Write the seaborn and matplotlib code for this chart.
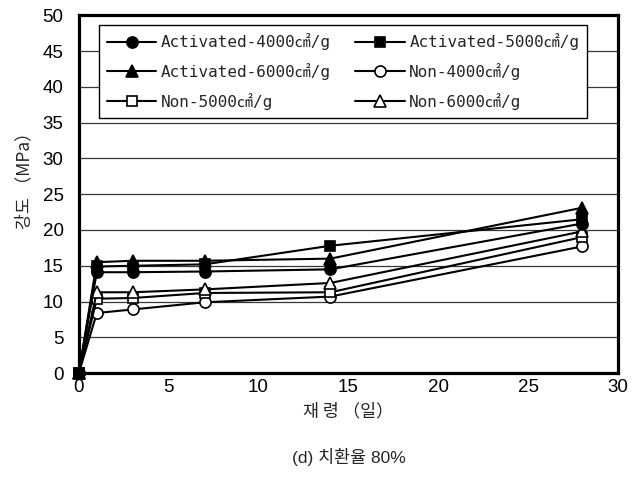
import matplotlib
matplotlib.use("Agg")
import matplotlib.pyplot as plt
import seaborn as sns
import pandas as pd

days = [0, 1, 3, 7, 14, 28]
act4000 = [0, 14.1, 14.1, 14.2, 14.5, 20.9]
act5000 = [0, 14.9, 15.0, 15.2, 17.8, 21.5]
act6000 = [0, 15.5, 15.7, 15.7, 16.0, 23.1]
non4000 = [0, 8.4, 8.9, 9.9, 10.7, 17.7]
non5000 = [0, 10.4, 10.5, 11.2, 11.3, 19.0]
non6000 = [0, 11.3, 11.3, 11.7, 12.6, 19.8]
labels = ["Activated-4000㎠/g", "Activated-5000㎠/g", "Activated-6000㎠/g",
          "Non-4000㎠/g", "Non-5000㎠/g", "Non-6000㎠/g"]
x_ticks = [0, 5, 10, 15, 20, 25, 30]
y_ticks = [0, 5, 10, 15, 20, 25, 30, 35, 40, 45, 50]

sns.set_style("white")
plt.rcParams['font.family'] = ['Liberation Sans', 'Noto Sans CJK KR', 'DejaVu Sans']

fig = plt.figure(figsize=(6.41, 4.91), dpi=100)
ax = fig.add_axes([0.123, 0.240, 0.841, 0.729])

series = [act4000, act5000, act6000, non4000, non5000, non6000]
markers = ['o', 's', '^', 'o', 's', '^']
filled = [True, True, True, False, False, False]
zorders = [4, 6, 5, 3, 3, 3]
handles = []
for vals, lab, m, f, z in zip(series, labels, markers, filled, zorders):
    df = pd.DataFrame({"day": days, "val": vals})
    sns.lineplot(data=df, x="day", y="val", ax=ax, color="black", lw=1.5,
                 marker=m, markersize=8 if m != 's' else 7.5,
                 markerfacecolor="black" if f else "white",
                 markeredgecolor="black", markeredgewidth=1.2, zorder=z, clip_on=False)
    handles.append(ax.lines[-1])

ax.set_xlim(0, 30)
ax.set_ylim(0, 50)
ax.set_xticks(x_ticks)
ax.set_yticks(y_ticks)
ax.yaxis.grid(True, color="#383838", lw=0.9)
ax.set_axisbelow(True)
for s in ax.spines.values():
    s.set_linewidth(2.3)
    s.set_color("black")
ax.tick_params(direction="in", length=5, width=0.9, labelsize=13.5, colors="black")
ax.tick_params(axis="y", pad=11)
ax.tick_params(axis="x", pad=4)

ax.set_xlabel("재 령 （일）", family=['Noto Sans CJK KR'], fontsize=12.5, labelpad=5)
ax.set_ylabel("강도 （MPa）", family=['Noto Sans CJK KR'], fontsize=12.5)
ax.yaxis.set_label_coords(-0.085, 0.55)

order = [0, 2, 4, 1, 3, 5]
leg = ax.legend([handles[i] for i in order], [labels[i] for i in order], ncol=2,
                loc="upper left", bbox_to_anchor=(0.037, 0.972), frameon=True, fancybox=False,
                edgecolor="black", framealpha=1, handlelength=3.1, handletextpad=0.3,
                columnspacing=1.5, labelspacing=0.8, borderpad=0.5, borderaxespad=0,
                prop={'family': ['DejaVu Sans Mono', 'Noto Sans CJK KR'], 'size': 11.5})
leg.get_frame().set_linewidth(1.0)
leg.set_zorder(10)

fig.text(0.545, 0.07, "(d) 치환율 80%", ha="center", va="center",
         family=['Liberation Sans', 'Noto Sans CJK KR'], fontsize=12.5)

fig.savefig("out.png", dpi=100)
